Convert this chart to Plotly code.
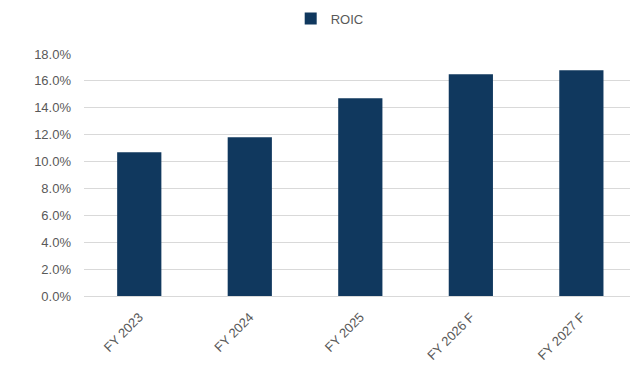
import plotly.graph_objects as go

categories = ["FY 2023", "FY 2024", "FY 2025", "FY 2026 F", "FY 2027 F"]
roic = [10.7, 11.8, 14.7, 16.5, 16.8]
tick_vals = [0, 2, 4, 6, 8, 10, 12, 14, 16, 18]
tick_text = [f"{v:.1f}%" for v in tick_vals]

fig = go.Figure()
fig.add_trace(go.Bar(
    x=categories, y=roic, name="ROIC",
    marker=dict(color="#10385E", line=dict(width=0)),
    width=0.4,
))

fig.update_layout(
    width=630, height=365,
    margin=dict(l=84, r=0, t=54, b=69),
    paper_bgcolor="white", plot_bgcolor="white",
    font=dict(family="Liberation Sans, Arial, sans-serif", size=13, color="#595959"),
    showlegend=True,
    legend=dict(orientation="h", x=0.45, xanchor="center", y=0.99, yanchor="top",
                yref="container", font=dict(size=13, color="#595959"),
                itemwidth=30),
    bargap=0.6,
)
fig.update_xaxes(range=[-0.5, 4.44], tickangle=-45, showgrid=False, showline=False,
                 ticks="", ticklabelstandoff=10,
                 tickfont=dict(size=13, color="#595959"))
fig.update_yaxes(range=[0, 18], tickvals=tick_vals, ticktext=tick_text,
                 showgrid=True, gridcolor="#D9D9D9", gridwidth=1,
                 zeroline=True, zerolinecolor="#D9D9D9", zerolinewidth=1,
                 showline=False, ticks="", ticklabelstandoff=12,
                 tickfont=dict(size=13, color="#595959"))

fig.write_html("out.html")
